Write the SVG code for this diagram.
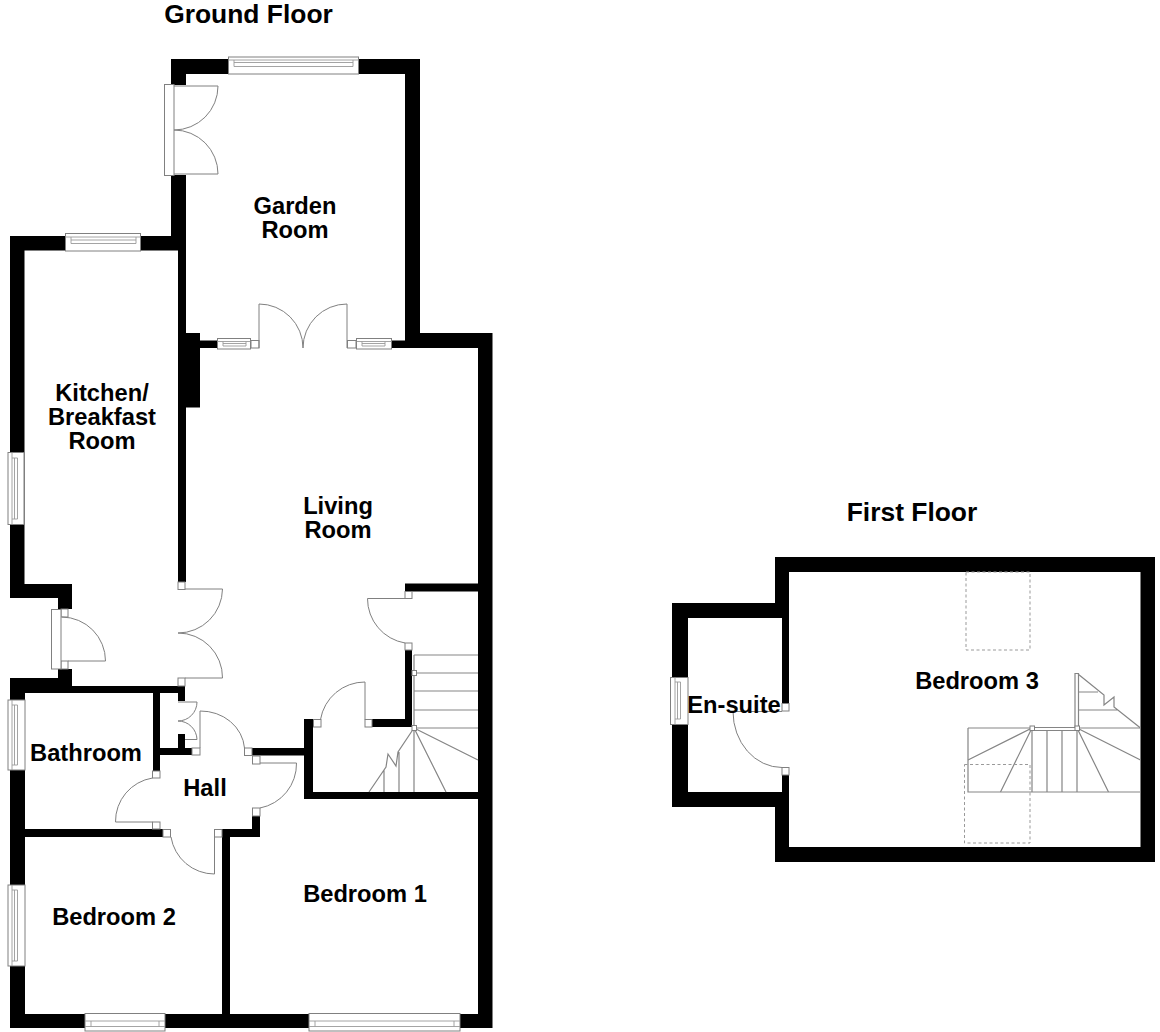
<svg xmlns="http://www.w3.org/2000/svg" width="1160" height="1032" viewBox="0 0 1160 1032">
<style>
.w{fill:#000;stroke:none}
.f{fill:#fff;stroke:#808080;stroke-width:1}
.l{fill:none;stroke:#808080;stroke-width:1}
.i{fill:none;stroke:#9a9a9a;stroke-width:.9}
.s{fill:none;stroke:#858585;stroke-width:1.2}
.d{fill:none;stroke:#999;stroke-width:1;stroke-dasharray:3 2.5}
text{font-family:"Liberation Sans",Arial,sans-serif;font-weight:700;fill:#000;text-anchor:middle}
.r{font-size:23.7px}
.t{font-size:26.4px}
</style>
<rect width="1160" height="1032" fill="#fff"/>
<g id="ground-floor-walls" class="w">
<rect x="171" y="59" width="249" height="15"/>
<rect x="171" y="59" width="15" height="26"/>
<rect x="171" y="175" width="15" height="62"/>
<rect x="405" y="59" width="15" height="289"/>
<rect x="405" y="333" width="87" height="15"/>
<rect x="478" y="333" width="14.500" height="695"/>
<rect x="391" y="340.500" width="14" height="7.500"/>
<rect x="200" y="340.500" width="18" height="7.500"/>
<rect x="185" y="333" width="15" height="74.500"/>
<rect x="178" y="236" width="8" height="346"/>
<rect x="10" y="236" width="168" height="14.500"/>
<rect x="10" y="236" width="14.500" height="362"/>
<rect x="10" y="584" width="62" height="14"/>
<rect x="58" y="584" width="14" height="25"/>
<rect x="58" y="669" width="14" height="24"/>
<rect x="10" y="678" width="62" height="15"/>
<rect x="72" y="686" width="113" height="7"/>
<rect x="178" y="693" width="7" height="8"/>
<rect x="10" y="678" width="15" height="350"/>
<rect x="153" y="693" width="7" height="78"/>
<rect x="160" y="748" width="32" height="7"/>
<rect x="178" y="734" width="7" height="14"/>
<rect x="25" y="829" width="138" height="8"/>
<rect x="252" y="748" width="52" height="7.500"/>
<rect x="304" y="719" width="9" height="80"/>
<rect x="372" y="719" width="40" height="8"/>
<rect x="405" y="650" width="7" height="77"/>
<rect x="405" y="583.500" width="73" height="8"/>
<rect x="304" y="792" width="174" height="7"/>
<rect x="252" y="816" width="8" height="21"/>
<rect x="222" y="829" width="38" height="8"/>
<rect x="222" y="829" width="8" height="185"/>
<rect x="10" y="1014" width="482" height="14"/>
</g>
<g id="first-floor-walls" class="w">
<rect x="775" y="557" width="380" height="15"/>
<rect x="775" y="557" width="14" height="61"/>
<rect x="672" y="603" width="117" height="15"/>
<rect x="672" y="603" width="16" height="204"/>
<rect x="672" y="792" width="117" height="15"/>
<rect x="782" y="618" width="7" height="85"/>
<rect x="782" y="775" width="7" height="17"/>
<rect x="775" y="792" width="14" height="70"/>
<rect x="775" y="847" width="380" height="15"/>
<rect x="1140.500" y="557" width="14.500" height="305"/>
</g>
<g id="windows">
<rect class="f" x="228.500" y="57" width="130" height="17"/><path class="i" d="M228.500,60H358.500M234,62.500H353M234,66.500H353M234,60V66.500M353,60V66.500"/>
<rect class="f" x="65.500" y="233.500" width="75" height="17.500"/><path class="i" d="M65.500,237H140.500M71,240H136M71,243.500H136M71,237V243.500M136,237V243.500"/>
<rect class="f" x="217.500" y="338.500" width="33" height="10.500"/><path class="i" d="M217.500,341.500H250.500M223,343.500H246M223,346H246M223,341.500V346M246,341.500V346"/>
<rect class="f" x="356.500" y="338.500" width="35" height="10.500"/><path class="i" d="M356.500,341.500H391.500M362,343.500H385M362,346H385M362,341.500V346M385,341.500V346"/>
<rect class="f" x="8" y="452.500" width="16" height="72"/><path class="i" d="M12,452.500V524.500M14.500,458V519M17.500,458V519M12,458H17.500M12,519H17.500"/>
<rect class="f" x="8" y="700" width="17" height="70"/><path class="i" d="M12,700V770M14.500,705V765M17.500,705V765M12,705H17.500M12,765H17.500"/>
<rect class="f" x="8" y="885" width="17" height="81"/><path class="i" d="M12,885V966M14.500,890V961M17.500,890V961M12,890H17.500M12,961H17.500"/>
<rect class="f" x="85" y="1013.500" width="80" height="17.500"/><path class="i" d="M85,1021H165M85,1026.500H165M91,1021V1026.500M159,1021V1026.500"/>
<rect class="f" x="309" y="1013.500" width="151" height="17.500"/><path class="i" d="M309,1021H460M309,1026.500H460M315,1021V1026.500M454,1021V1026.500"/>
<rect class="f" x="670.500" y="677.500" width="17.500" height="47"/><path class="i" d="M675,677.500V724.500M677.500,682V719M680.500,682V719M675,682H680.500M675,719H680.500"/>
</g>
<g id="door-jambs" class="f">
<rect x="251" y="340.500" width="8" height="7.500"/>
<rect x="347.500" y="340.500" width="8.500" height="7.500"/>
<rect x="178" y="582" width="7" height="7.500"/>
<rect x="178" y="678" width="7" height="8"/>
<rect x="61" y="609" width="7" height="8"/>
<rect x="61" y="661" width="7" height="8"/>
<rect x="192" y="748" width="8" height="7"/>
<rect x="244.500" y="748" width="7.500" height="7.500"/>
<rect x="252.500" y="756" width="7.500" height="8"/>
<rect x="252.500" y="808" width="7.500" height="8"/>
<rect x="214.500" y="829.500" width="7.500" height="7.500"/>
<rect x="163" y="829.500" width="7.500" height="7.500"/>
<rect x="152.500" y="771" width="7.500" height="7"/>
<rect x="152.500" y="822" width="7.500" height="7"/>
<rect x="405" y="591.500" width="7" height="7"/>
<rect x="405" y="643" width="7" height="7"/>
<rect x="365" y="719.500" width="7" height="7.500"/>
<rect x="313.500" y="719.500" width="7.500" height="7.500"/>
<rect x="782" y="703.500" width="7" height="7.500"/>
<rect x="782" y="767.500" width="7" height="7.500"/>
</g>
<g id="doors" class="l">
<rect class="f" x="164.500" y="84.500" width="9.500" height="91"/>
<path d="M174,86H218A44,44 0 0 1 174,130A44,44 0 0 1 218,174H174"/>
<path d="M259,348V304A44,44 0 0 1 303,348"/>
<path d="M347,348V304A44,44 0 0 0 303,348"/>
<path d="M185,589H222.500A44.500,44.500 0 0 1 178,633A44.500,44.500 0 0 1 222.500,678H185"/>
<rect class="f" x="51.500" y="609.500" width="9.500" height="59.500"/>
<path d="M62,617A44,44 0 0 1 105.500,661H68"/>
<path d="M178,702H197A19,19 0 0 1 178,721A19,19 0 0 1 197,739.500H185"/>
<path d="M200,748V711A44,40 0 0 1 244.500,748"/>
<path d="M260,763H296.500A45,45 0 0 1 260,808"/>
<path d="M214.500,837V874A44,44 0 0 1 171,837"/>
<path d="M152.500,822H115.500A44,44 0 0 1 152.500,778"/>
<path d="M412,598.500H367.500A45,45 0 0 0 405,643"/>
<path d="M365,719.500V682A45,45 0 0 0 320.500,719.500"/>
<path d="M782,711.500H733A49,56 0 0 0 782,767.500"/>
</g>
<g id="stairs" class="s">
<path d="M414,655H478M414,673H478M414,691H478M414,710H478M414,728H478M414,655V728"/>
<path d="M414,728L478,760M414,728L446,792M414,728V792M399,752V792M384,770V792M414,728L398,752L396,766L388,754L386,767L369,792"/>
<path d="M968,728H1032M1077,728H1140.500M968,728V792H1140.500M1032,730V792M1047,730V792M1062,730V792M1077,730V792M1032,727.500H1077M1032,730.500H1077"/>
<path d="M1032,728L968,760M1032,728L1000.500,792M1077,728L1108.500,792M1077,728L1140.500,760"/>
<path d="M1075,728V673.500H1078.500V728M1078,674L1104,695V705L1114,697V707L1140.500,728M1078,692H1098M1078,710H1118"/>
<rect class="f" x="412" y="670.500" width="4.500" height="5"/>
<rect class="f" x="412" y="725.500" width="4.500" height="5"/>
<rect class="f" x="1030" y="726" width="4.500" height="4.500"/>
<rect class="f" x="1075" y="726" width="4.500" height="4.500"/>
</g>
<g id="roof-windows" class="d">
<rect x="966" y="572" width="64" height="78"/>
<rect x="964.500" y="764.500" width="65.500" height="78.500"/>
</g>
<g id="labels">
<text class="t" x="248.500" y="23">Ground Floor</text>
<text class="t" x="912" y="521">First Floor</text>
<text class="r" x="295" y="214">Garden</text>
<text class="r" x="295" y="238">Room</text>
<text class="r" x="102" y="401">Kitchen/</text>
<text class="r" x="102" y="425">Breakfast</text>
<text class="r" x="102" y="449">Room</text>
<text class="r" x="338" y="514">Living</text>
<text class="r" x="338" y="538">Room</text>
<text class="r" x="86" y="761">Bathroom</text>
<text class="r" x="205" y="796">Hall</text>
<text class="r" x="114" y="925">Bedroom 2</text>
<text class="r" x="365" y="902">Bedroom 1</text>
<text class="r" x="977" y="689">Bedroom 3</text>
<text class="r" x="734" y="713">En-suite</text>
</g>
</svg>
